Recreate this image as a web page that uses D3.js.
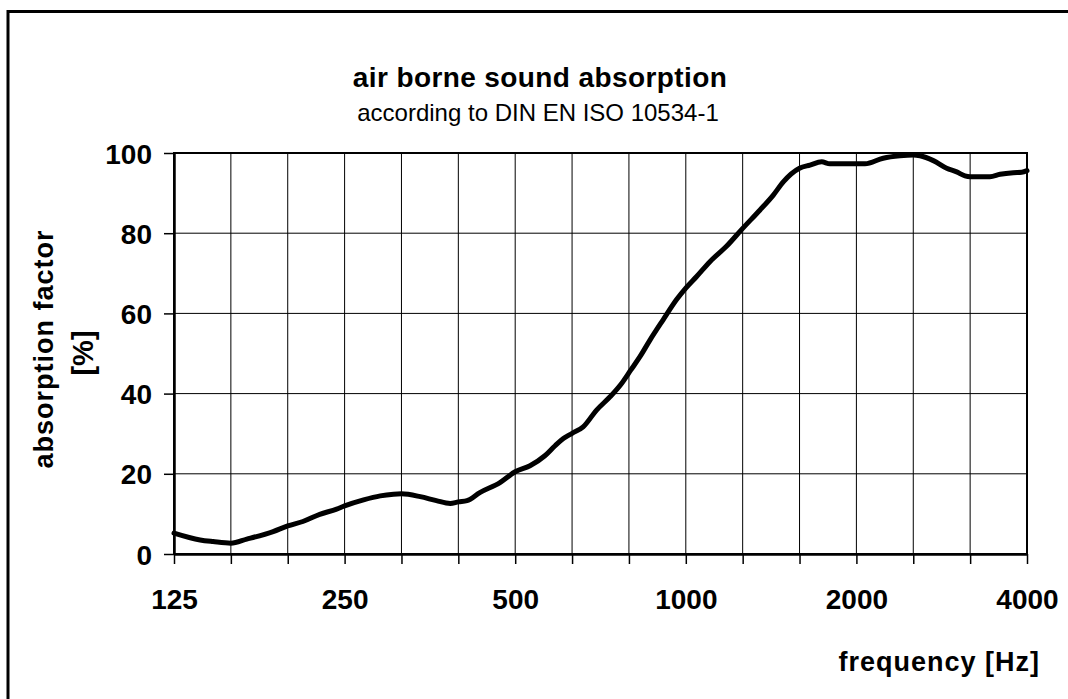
<!DOCTYPE html>
<html>
<head>
<meta charset="utf-8">
<script src="https://cdn.jsdelivr.net/npm/d3@7"></script>
<style>
  html, body { margin: 0; padding: 0; background: #fff; overflow: hidden; }
  svg { display: block; font-family: "Liberation Sans", Arial, sans-serif; }
</style>
</head>
<body>
<svg id="chart" width="1068" height="699"></svg>
<script>
// ---- data ----
const freqs = [125, 139, 146.5, 157.5, 168, 187, 198.4, 211, 226, 242, 250, 270, 289, 305, 315,
  340, 363, 384, 396.9, 411, 433, 470, 500, 531, 564, 588, 608, 630, 659, 696, 735, 771,
  800, 830, 865, 912, 964, 1000, 1045, 1103, 1181, 1260, 1352, 1427, 1486, 1587, 1656, 1737,
  1796, 2000, 2071, 2230, 2387, 2520, 2590, 2734, 2886, 3006, 3109, 3175, 3441, 3585, 3783,
  3915, 4000];
const absorption = [5.2, 3.5, 3.1, 2.7, 3.7, 5.6, 7.0, 8.1, 9.9, 11.2, 12.0, 13.5, 14.5, 14.9, 15.0,
  14.3, 13.3, 12.6, 13.0, 13.3, 15.3, 17.8, 20.5, 22.0, 24.5, 27.0, 28.8, 30.1, 31.7, 35.9, 39.2, 42.6,
  45.9, 49.2, 53.4, 58.4, 63.5, 66.3, 69.2, 72.9, 76.8, 81.2, 85.8, 89.5, 92.8, 96.2, 97.0, 97.8,
  97.3, 97.3, 97.3, 98.7, 99.3, 99.5, 99.3, 98.1, 96.2, 95.3, 94.3, 94.1, 94.1, 94.7, 95.1,
  95.2, 95.6];

const octaveLabels = [125, 250, 500, 1000, 2000, 4000];
const yTicks = [0, 20, 40, 60, 80, 100];
// third-octave band centres used for the grid (16 lines, 125 .. 4000)
const bandFreqs = d3.range(16).map(i => 125 * Math.pow(2, i / 3));

const titleText = "air borne sound absorption";
const subtitleText = "according to DIN EN ISO 10534-1";
const xTitle = "frequency [Hz]";
const yTitle = ["absorption factor", "[%]"];

// ---- layout ----
const plot = { left: 174, right: 1027, top: 153, bottom: 554 };
const svg = d3.select("#chart");

const x = d3.scaleLog().domain([125, 4000]).range([plot.left, plot.right]);
const y = d3.scaleLinear().domain([0, 100]).range([plot.bottom, plot.top]);

// outer frame: only top and left edges show, the rest is cut off
svg.append("path")
  .attr("d", "M8,720V11.5H1090")
  .attr("fill", "none").attr("stroke", "#000").attr("stroke-width", 3);

// grid
const grid = svg.append("g");
grid.selectAll("line.v").data(bandFreqs).join("line")
  .attr("x1", d => x(d)).attr("x2", d => x(d))
  .attr("y1", plot.top).attr("y2", plot.bottom)
  .attr("stroke", "#000").attr("stroke-width", 1);
grid.selectAll("line.h").data(yTicks).join("line")
  .attr("x1", plot.left).attr("x2", plot.right)
  .attr("y1", d => y(d)).attr("y2", d => y(d))
  .attr("stroke", "#000").attr("stroke-width", 1);

// plot border
svg.append("rect")
  .attr("x", plot.left).attr("y", plot.top)
  .attr("width", plot.right - plot.left).attr("height", plot.bottom - plot.top)
  .attr("fill", "none").attr("stroke", "#000").attr("stroke-width", 2);

// axes
const yAxis = svg.append("g")
  .attr("transform", `translate(${plot.left},0)`)
  .call(d3.axisLeft(y).tickValues(yTicks).tickSize(10).tickPadding(12).tickSizeOuter(0));
const xAxis = svg.append("g")
  .attr("transform", `translate(0,${plot.bottom})`)
  .call(d3.axisBottom(x).tickValues(bandFreqs).tickSize(10).tickPadding(25).tickSizeOuter(0)
    .tickFormat(d => {
      const hit = octaveLabels.find(o => Math.abs(o - d) < 1);
      return hit ? String(hit) : "";
    }));

[yAxis, xAxis].forEach(g => {
  g.select(".domain").attr("stroke", "#000").attr("stroke-width", 2.5);
  g.selectAll(".tick line").attr("stroke", "#000").attr("stroke-width", 1.5);
  g.selectAll(".tick text")
    .attr("fill", "#000")
    .style("font-family", '"Liberation Sans", Arial, sans-serif')
    .style("font-size", "28px").style("font-weight", "bold");
});
yAxis.selectAll(".tick text").attr("dy", "0.36em");

// curve
const line = d3.line()
  .x((d, i) => x(freqs[i]))
  .y(d => y(d))
  .curve(d3.curveMonotoneX);
svg.append("path")
  .datum(absorption)
  .attr("d", line)
  .attr("fill", "none")
  .attr("stroke", "#000")
  .attr("stroke-width", 5)
  .attr("stroke-linejoin", "round")
  .attr("stroke-linecap", "round");

// titles
svg.append("text")
  .attr("x", 540).attr("y", 87)
  .attr("text-anchor", "middle")
  .style("font-size", "28px").style("font-weight", "bold")
  .style("letter-spacing", "0.4px")
  .text(titleText);
svg.append("text")
  .attr("x", 538).attr("y", 121)
  .attr("text-anchor", "middle")
  .style("font-size", "24px")
  .text(subtitleText);
svg.append("text")
  .attr("x", 1040).attr("y", 671)
  .attr("text-anchor", "end")
  .style("font-size", "27px").style("font-weight", "bold")
  .style("letter-spacing", "1px")
  .text(xTitle);

const yt = svg.append("g").attr("transform", "rotate(-90)");
yt.append("text")
  .attr("x", -349).attr("y", 53)
  .attr("text-anchor", "middle")
  .style("font-size", "27px").style("font-weight", "bold")
  .style("letter-spacing", "1px")
  .text(yTitle[0]);
yt.append("text")
  .attr("x", -353).attr("y", 93)
  .attr("text-anchor", "middle")
  .style("font-size", "29px").style("font-weight", "bold")
  .text(yTitle[1]);
</script>
</body>
</html>
